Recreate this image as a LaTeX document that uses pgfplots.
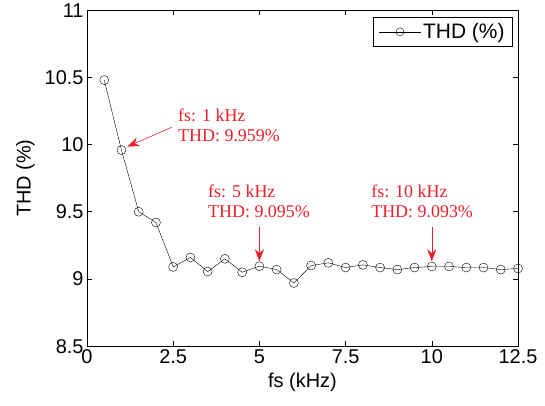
\documentclass[border=0pt]{standalone}
\usepackage{pgfplots}
\pgfplotsset{compat=1.18}
\usepackage{fontspec}
\setmainfont{Liberation Sans}
\newfontfamily\timesf{Liberation Serif}
\usetikzlibrary{arrows.meta}
\definecolor{annred}{RGB}{236,30,40}
\begin{document}
\begin{tikzpicture}
\begin{axis}[
    scale only axis,
    width=431bp, height=336bp,
    xmin=0, xmax=12.5, ymin=8.5, ymax=11,
    xtick={0,2.5,5,7.5,10,12.5},
    ytick={8.5,9,9.5,10,10.5,11},
    xticklabels={0,2.5,5,7.5,10,12.5},
    yticklabels={8.5,9,9.5,10,10.5,11},
    tick align=inside,
    major tick length=5bp,
    tick style={black, semithick},
    axis line style={black, semithick},
    tick label style={font=\fontsize{20}{24}\selectfont},
    label style={font=\fontsize{20}{24}\selectfont},
    xlabel={fs (kHz)},
    ylabel={THD (\%)},
    xlabel style={yshift=-2bp},
    ylabel style={yshift=3bp},
    legend style={font=\fontsize{21}{24}\selectfont, draw=black, semithick,
                  at={(rel axis cs:0.988,0.979)}, anchor=north east,
                  inner xsep=6bp, inner ysep=4bp,
                  /tikz/every even column/.append style={column sep=4bp}},
    legend image code/.code={
      \draw[mark repeat=2, mark phase=2, #1]
        plot coordinates {(0bp,0bp) (21bp,0bp) (42bp,0bp)};},
    legend image post style={mark size=4bp},
  ]
\addplot[black, thin, mark=o, mark size=4.5bp, mark options={thin}] coordinates {
  (0.5,10.48) (1,9.959) (1.5,9.50) (2,9.42) (2.5,9.09)
  (3,9.16) (3.5,9.055) (4,9.15) (4.5,9.05) (5,9.095)
  (5.5,9.07) (6,8.97) (6.5,9.10) (7,9.12) (7.5,9.085)
  (8,9.105) (8.5,9.085) (9,9.07) (9.5,9.085) (10,9.093)
  (10.5,9.093) (11,9.085) (11.5,9.085) (12,9.07) (12.5,9.078)};
\addlegendentry{THD (\%)}

\begin{scope}[annred, font=\timesf\fontsize{18}{21}\selectfont]
  \node[anchor=west, inner sep=0pt] at (axis cs:2.64,10.22) {fs: 1 kHz};
  \node[anchor=west, inner sep=0pt] at (axis cs:2.64,10.065) {THD: 9.959\%};
  \draw[semithick, -{Stealth[length=12bp,width=9bp]}] (axis cs:2.47,10.13) -- (axis cs:1.17,9.985);

  \node[anchor=west, inner sep=0pt] at (axis cs:3.51,9.655) {fs: 5 kHz};
  \node[anchor=west, inner sep=0pt] at (axis cs:3.51,9.50) {THD: 9.095\%};
  \draw[semithick, -{Stealth[length=12bp,width=9bp]}] (axis cs:5,9.385) -- (axis cs:5,9.132);

  \node[anchor=west, inner sep=0pt] at (axis cs:8.24,9.655) {fs: 10 kHz};
  \node[anchor=west, inner sep=0pt] at (axis cs:8.24,9.50) {THD: 9.093\%};
  \draw[semithick, -{Stealth[length=12bp,width=9bp]}] (axis cs:10,9.385) -- (axis cs:10,9.132);
\end{scope}
\end{axis}
\path (current axis.south west) ++(-87bp,-59bp) rectangle ++(545bp,405bp);
\end{tikzpicture}
\end{document}
